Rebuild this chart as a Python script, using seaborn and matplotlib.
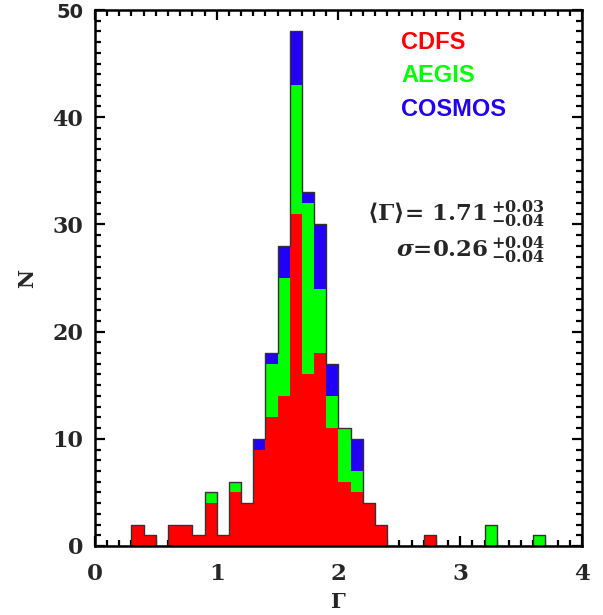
import numpy as np
import pandas as pd
import matplotlib
matplotlib.use("Agg")
import matplotlib.pyplot as plt
import seaborn as sns
from matplotlib.ticker import MultipleLocator

# ---- data (counts per 0.1-wide bin of Gamma, 0..4) ----
bin_centers = [round(0.05 + 0.1 * i, 2) for i in range(40)]
cdfs_counts = [0, 0, 0, 2, 1, 0, 2, 2, 1, 4,
               1, 5, 4, 9, 12, 14, 31, 16, 18, 11,
               6, 5, 4, 2, 0, 0, 0, 1, 0, 0,
               0, 0, 0, 0, 0, 0, 0, 0, 0, 0]
aegis_counts = [0, 0, 0, 0, 0, 0, 0, 0, 0, 1,
                0, 1, 0, 0, 5, 11, 12, 16, 6, 3,
                5, 2, 0, 0, 0, 0, 0, 0, 0, 0,
                0, 0, 2, 0, 0, 0, 1, 0, 0, 0]
cosmos_counts = [0, 0, 0, 0, 0, 0, 0, 0, 0, 0,
                 0, 0, 0, 1, 1, 3, 5, 1, 6, 3,
                 0, 3, 0, 0, 0, 0, 0, 0, 0, 0,
                 0, 0, 0, 0, 0, 0, 0, 0, 0, 0]
surveys = ["CDFS", "AEGIS", "COSMOS"]
survey_colors = {"CDFS": "#ff0000", "AEGIS": "#00ff00", "COSMOS": "#2200f5"}
x_ticks = [0, 1, 2, 3, 4]
y_ticks = [0, 10, 20, 30, 40, 50]

frames = []
for name, counts in zip(surveys, [cdfs_counts, aegis_counts, cosmos_counts]):
    frames.append(pd.DataFrame({"Gamma": bin_centers, "N": counts, "survey": name}))
df = pd.concat(frames, ignore_index=True)

sns.set_style("ticks")
plt.rcParams["mathtext.fontset"] = "custom"
plt.rcParams["mathtext.rm"] = "DejaVu Serif:bold"
plt.rcParams["mathtext.bf"] = "DejaVu Serif:bold"
plt.rcParams["mathtext.it"] = "DejaVu Serif:italic:bold"

fig = plt.figure(figsize=(6.03, 6.15), dpi=100)
ax = fig.add_axes([0.1575, 0.1122, 0.8076, 0.8715])

sns.histplot(data=df, x="Gamma", weights="N", hue="survey",
             hue_order=["COSMOS", "AEGIS", "CDFS"], palette=survey_colors,
             multiple="stack", element="step", binwidth=0.1, binrange=(0, 4),
             alpha=1, linewidth=0, legend=False, ax=ax)
sns.histplot(data=df, x="Gamma", weights="N", element="step", fill=False,
             binwidth=0.1, binrange=(0, 4), color="#333333", linewidth=1.0,
             ax=ax)

ax.set_xlim(0, 4)
ax.set_ylim(0, 50)
ax.set_xticks(x_ticks)
ax.set_yticks(y_ticks)
ax.xaxis.set_minor_locator(MultipleLocator(0.1))
ax.yaxis.set_minor_locator(MultipleLocator(1))
ax.tick_params(which="both", direction="in", top=True, right=True, width=1.6, color="black")
ax.tick_params(which="major", length=7.5)
ax.tick_params(which="minor", length=4)
ax.tick_params(axis="x", pad=12)
ax.tick_params(axis="y", pad=8.5)
for lab in ax.get_xticklabels():
    lab.set_fontfamily("DejaVu Serif")
    lab.set_fontweight("bold")
    lab.set_fontsize(16.5)
for lab in ax.get_yticklabels():
    lab.set_fontfamily("DejaVu Serif")
    lab.set_fontweight("bold")
    lab.set_fontsize(16)
ax.get_yticklabels()[-1].set_fontfamily("DejaVu Sans")
ax.get_yticklabels()[-1].set_fontsize(14)
for sp in ax.spines.values():
    sp.set_linewidth(1.8)
    sp.set_color("black")

ax.set_xlabel("Γ", fontfamily="DejaVu Serif", fontweight="bold", fontsize=15, labelpad=5)
ax.set_ylabel("N", fontfamily="DejaVu Serif", fontweight="bold", fontsize=15, labelpad=11)

for name, yf in zip(surveys, [0.939, 0.877, 0.815]):
    ax.text(0.629, yf, name, transform=ax.transAxes, color=survey_colors[name],
            fontfamily="Liberation Sans", fontweight="bold", fontsize=17,
            ha="left", va="center")

ax.text(0.924, 0.606, r"$\langle\Gamma\rangle$= 1.71$\,{}^{+0.03}_{-0.04}$",
        transform=ax.transAxes, ha="right", va="baseline", fontsize=16.5,
        fontfamily="DejaVu Serif", fontweight="bold")
ax.text(0.924, 0.538, r"$\sigma$=0.26$\,{}^{+0.04}_{-0.04}$",
        transform=ax.transAxes, ha="right", va="baseline", fontsize=16.5,
        fontfamily="DejaVu Serif", fontweight="bold")

fig.savefig("out.png", dpi=100, facecolor="white")
